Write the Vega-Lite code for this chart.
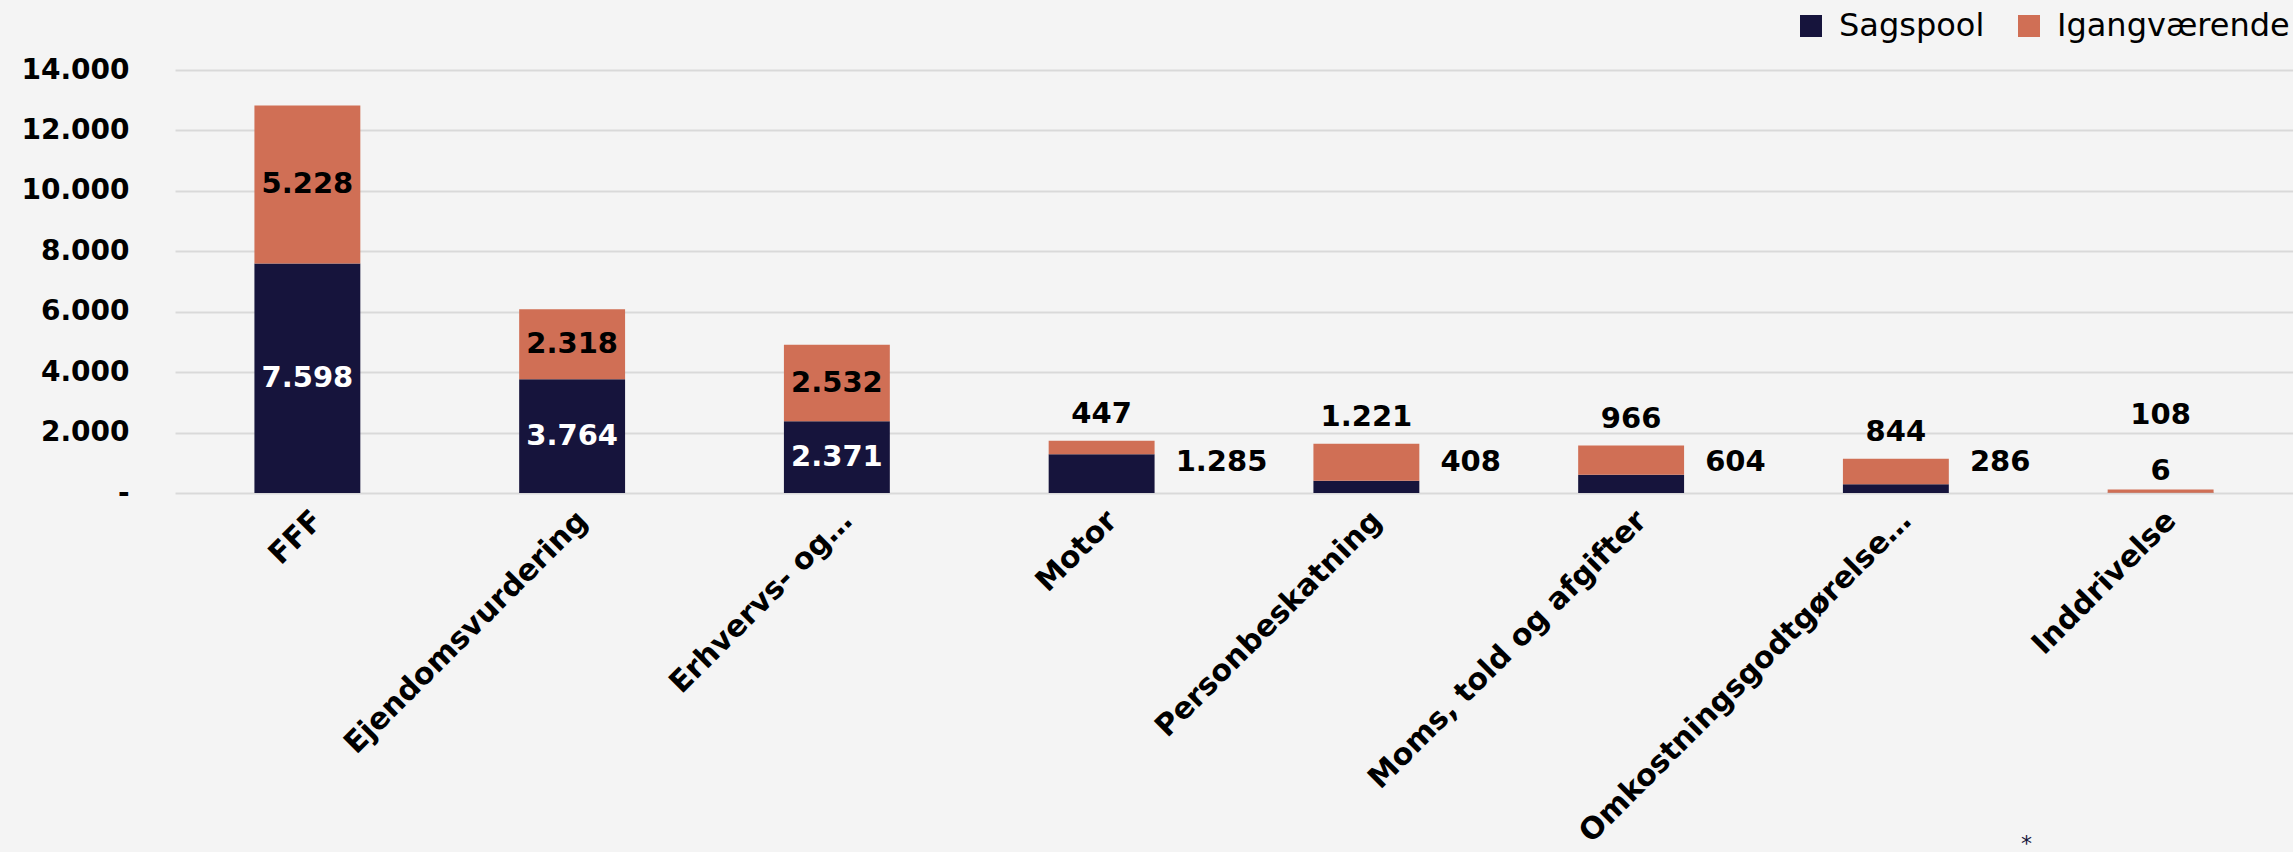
{
  "$schema": "https://vega.github.io/schema/vega-lite/v6.json",
  "autosize": {"type": "none"},
  "width": 2118,
  "height": 423,
  "padding": {"left": 175, "top": 70, "right": 0, "bottom": 359},
  "background": "#f4f4f4",
  "config": {
    "locale": {"number": {"decimal": ",", "thousands": ".", "grouping": [3], "currency": ["", " kr."]}},
    "view": {"stroke": null},
    "font": "DejaVu Sans",
    "axis": {"gridColor": "#d9d9d9", "gridWidth": 2, "domain": false, "ticks": false, "labelColor": "#000000", "labelFont": "DejaVu Sans", "labelFontWeight": "bold"},
    "axisX": {"grid": false, "labelAngle": -45, "labelFontSize": 30, "labelPadding": 12, "labelLimit": 0}
  },
  "data": {
    "values": [
      {"kategori": "FFF", "serie": "Sagspool", "antal": 7598},
      {"kategori": "FFF", "serie": "Igangværende", "antal": 5228},
      {"kategori": "Ejendomsvurdering", "serie": "Sagspool", "antal": 3764},
      {"kategori": "Ejendomsvurdering", "serie": "Igangværende", "antal": 2318},
      {"kategori": "Erhvervs- og…", "serie": "Sagspool", "antal": 2371},
      {"kategori": "Erhvervs- og…", "serie": "Igangværende", "antal": 2532},
      {"kategori": "Motor", "serie": "Sagspool", "antal": 1285},
      {"kategori": "Motor", "serie": "Igangværende", "antal": 447},
      {"kategori": "Personbeskatning", "serie": "Sagspool", "antal": 408},
      {"kategori": "Personbeskatning", "serie": "Igangværende", "antal": 1221},
      {"kategori": "Moms, told og afgifter", "serie": "Sagspool", "antal": 604},
      {"kategori": "Moms, told og afgifter", "serie": "Igangværende", "antal": 966},
      {"kategori": "Omkostningsgodtgørelse…", "serie": "Sagspool", "antal": 286},
      {"kategori": "Omkostningsgodtgørelse…", "serie": "Igangværende", "antal": 844},
      {"kategori": "Inddrivelse", "serie": "Sagspool", "antal": 6},
      {"kategori": "Inddrivelse", "serie": "Igangværende", "antal": 108}
    ]
  },
  "transform": [
    {"stack": "antal", "groupby": ["kategori"], "sort": [{"field": "serie", "order": "descending"}], "as": ["y0", "y1"]},
    {"calculate": "(datum.y0 + datum.y1) / 2", "as": "ymid"}
  ],
  "encoding": {
    "x": {
      "field": "kategori",
      "type": "nominal",
      "sort": ["FFF", "Ejendomsvurdering", "Erhvervs- og…", "Motor", "Personbeskatning", "Moms, told og afgifter", "Omkostningsgodtgørelse…", "Inddrivelse"],
      "scale": {"paddingInner": 0.6, "paddingOuter": 0.3},
      "axis": {"title": "*", "titleX": 1851, "titleY": 350, "titleColor": "#16143c", "titleFontSize": 22, "titleFontWeight": "normal", "titleBaseline": "middle"}
    }
  },
  "layer": [
    {
      "mark": {"type": "bar"},
      "encoding": {
        "y": {
          "field": "y1",
          "type": "quantitative",
          "title": null,
          "scale": {"domain": [0, 14000], "nice": false},
          "axis": {"values": [0, 2000, 4000, 6000, 8000, 10000, 12000, 14000], "format": ",d", "labelExpr": "datum.value == 0 ? '-' : datum.label", "labelFontSize": 28, "labelPadding": 46}
        },
        "y2": {"field": "y0"},
        "color": {
          "field": "serie",
          "type": "nominal",
          "scale": {"domain": ["Sagspool", "Igangværende"], "range": ["#16143c", "#d06f55"]},
          "legend": {"title": null, "orient": "none", "direction": "horizontal", "legendX": 1620, "legendY": -60, "symbolType": "square", "symbolSize": 484, "symbolStrokeWidth": 0, "labelFontSize": 32, "labelFont": "DejaVu Sans", "labelFontWeight": "normal", "labelColor": "#000000", "labelLimit": 0, "columnPadding": 28, "labelOffset": 12}
        }
      }
    },
    {
      "transform": [{"filter": {"field": "kategori", "oneOf": ["FFF", "Ejendomsvurdering", "Erhvervs- og…"]}}],
      "mark": {"type": "text", "font": "DejaVu Sans", "fontWeight": "bold", "fontSize": 29, "baseline": "middle", "align": "center"},
      "encoding": {
        "y": {"field": "ymid", "type": "quantitative", "title": null},
        "text": {"field": "antal", "type": "quantitative", "format": ",d"},
        "color": {"condition": {"test": "datum.serie == 'Sagspool'", "value": "#ffffff"}, "value": "#000000"}
      }
    },
    {
      "transform": [
        {"filter": {"field": "kategori", "oneOf": ["Motor", "Personbeskatning", "Moms, told og afgifter", "Omkostningsgodtgørelse…"]}},
        {"filter": {"field": "serie", "equal": "Igangværende"}}
      ],
      "mark": {"type": "text", "font": "DejaVu Sans", "fontWeight": "bold", "fontSize": 29, "baseline": "middle", "align": "center", "dy": -27, "color": "#000000"},
      "encoding": {
        "y": {"field": "y1", "type": "quantitative", "title": null},
        "text": {"field": "antal", "type": "quantitative", "format": ",d"}
      }
    },
    {
      "transform": [
        {"filter": {"field": "kategori", "oneOf": ["Motor", "Personbeskatning", "Moms, told og afgifter", "Omkostningsgodtgørelse…"]}},
        {"filter": {"field": "serie", "equal": "Sagspool"}}
      ],
      "mark": {"type": "text", "font": "DejaVu Sans", "fontWeight": "bold", "fontSize": 29, "baseline": "middle", "align": "left", "dx": 74, "dy": -31, "color": "#000000"},
      "encoding": {
        "y": {"datum": 0, "type": "quantitative"},
        "text": {"field": "antal", "type": "quantitative", "format": ",d"}
      }
    },
    {
      "transform": [
        {"filter": {"field": "kategori", "equal": "Inddrivelse"}},
        {"filter": {"field": "serie", "equal": "Igangværende"}}
      ],
      "mark": {"type": "text", "font": "DejaVu Sans", "fontWeight": "bold", "fontSize": 29, "baseline": "middle", "align": "center", "dy": -78, "color": "#000000"},
      "encoding": {
        "y": {"datum": 0, "type": "quantitative"},
        "text": {"field": "antal", "type": "quantitative", "format": ",d"}
      }
    },
    {
      "transform": [
        {"filter": {"field": "kategori", "equal": "Inddrivelse"}},
        {"filter": {"field": "serie", "equal": "Sagspool"}}
      ],
      "mark": {"type": "text", "font": "DejaVu Sans", "fontWeight": "bold", "fontSize": 29, "baseline": "middle", "align": "center", "dy": -22, "color": "#000000"},
      "encoding": {
        "y": {"datum": 0, "type": "quantitative"},
        "text": {"field": "antal", "type": "quantitative", "format": ",d"}
      }
    }
  ]
}
